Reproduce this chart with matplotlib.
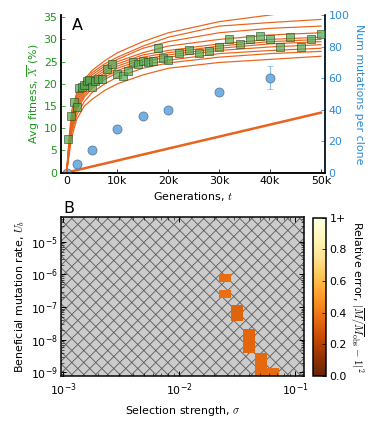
import matplotlib
matplotlib.use('Agg')
import matplotlib.pyplot as plt
import numpy as np
from matplotlib.collections import LineCollection

plt.rcParams.update({'font.size': 11, 'font.family': 'DejaVu Sans',
                     'mathtext.fontset': 'cm'})

GREEN = '#1c961c'
BLUE = '#2a8ad4'
ORANGE = '#e8641c'

# ---- panel A data ----
t_sim = [0, 500, 1000, 2000, 3500, 5000, 7500, 10000, 15000, 20000, 30000, 40000, 50000]
sim_fitness = [
    [0, 8.0, 14.0, 18.0, 21.0, 23.0, 25.2, 27.0, 29.5, 31.5, 34.0, 35.5, 37.0],
    [0, 7.0, 13.0, 17.5, 20.5, 22.5, 24.5, 26.0, 28.5, 30.5, 33.0, 33.8, 34.5],
    [0, 7.0, 12.5, 17.0, 20.0, 22.0, 24.0, 25.5, 28.0, 29.5, 31.5, 32.5, 33.0],
    [0, 6.5, 12.0, 16.5, 19.5, 21.5, 23.5, 25.0, 27.0, 28.5, 30.0, 31.0, 31.5],
    [0, 6.0, 11.5, 16.0, 19.0, 21.0, 23.0, 24.5, 26.5, 27.5, 29.0, 30.0, 30.5],
    [0, 6.0, 11.0, 15.5, 18.5, 20.5, 22.5, 24.0, 26.0, 27.0, 28.5, 29.5, 30.0],
    [0, 5.5, 10.5, 15.0, 18.0, 20.0, 22.0, 23.5, 25.5, 26.5, 28.0, 29.0, 29.5],
    [0, 5.0, 10.0, 14.5, 17.5, 19.5, 21.5, 23.0, 25.0, 26.0, 27.5, 28.3, 28.8],
    [0, 5.0, 9.5, 14.0, 17.0, 19.0, 21.0, 22.5, 24.3, 25.3, 26.8, 27.5, 28.0],
    [0, 4.5, 9.0, 13.0, 16.0, 18.0, 20.0, 21.5, 23.5, 24.7, 26.0, 26.8, 27.3],
    [0, 4.0, 8.0, 12.0, 15.0, 16.5, 18.5, 20.0, 22.0, 23.5, 24.8, 25.5, 26.2],
]
t_fit = [330, 860, 1450, 2000, 2500, 3000, 3500, 4000, 4500, 5000, 5600, 6100, 7000,
         8000, 9000, 10000, 11000, 12000, 13000, 14000, 15000, 16000, 17000, 18000,
         19000, 20000, 22000, 24000, 26000, 28000, 30000, 32000, 34000, 36000, 38000,
         40000, 42000, 44000, 46000, 48000, 50000]
fitness = [7.5, 12.7, 16.0, 14.7, 19.0, 19.2, 19.7, 20.7, 20.8, 19.2, 20.7, 21.0, 21.1,
           23.3, 24.4, 22.3, 21.7, 22.9, 24.8, 24.4, 25.1, 24.8, 25.1, 28.1,
           25.7, 25.4, 26.9, 27.6, 27.0, 27.4, 28.4, 30.2, 28.9, 30.2, 30.8,
           30.2, 28.4, 30.6, 28.4, 30.0, 31.2]
t_mut = [0, 2000, 5000, 10000, 15000, 20000, 30000, 40000]
mutations = [0, 5.7, 14.2, 27.5, 35.6, 40.0, 50.8, 60.2]
mut_err = [0, 0, 0, 0, 0, 0, 0, 7.4]
t_line = [0, 50000]
mut_line = [0, 38]

# ---- panel B data ----
sigma_edges = 10 ** np.linspace(-3, -0.93, 21)
ub_edges = 10 ** (-9.11 + 0.24 * np.arange(22))
cell_sigma = [13, 13, 14, 14, 15, 15, 15, 16, 16, 16, 17]
cell_ub = [10, 12, 7, 8, 3, 4, 5, 0, 1, 2, 0]
cell_err = [0.37, 0.36, 0.33, 0.33, 0.34, 0.34, 0.34, 0.35, 0.35, 0.35, 0.36]

W, H = 375, 425
fig = plt.figure(figsize=(W / 72, H / 72), dpi=72)

# ============== panel A ==============
ax = fig.add_axes([0.1627, 0.5941, 0.704, 0.3706])
ax2 = ax.twinx()
for curve in sim_fitness:
    ax.plot(t_sim, curve, color=ORANGE, lw=1.2, zorder=2)
ax2.plot(t_line, mut_line, color=ORANGE, lw=2.5, zorder=2)
ax2.errorbar(t_mut, mutations, yerr=mut_err, fmt='o', ms=9, mfc='#74b1e2',
             mec='#5a7a99', mew=0.8, ecolor='#8cc0ea', elinewidth=1.2, capsize=3,
             zorder=4)
ax.plot(t_fit, fitness, 's', ms=8.5, mfc='#4fa84f', mec='#224422', mew=0.8,
        alpha=0.7, zorder=5)
ax.set_zorder(ax2.get_zorder() + 1)
ax.patch.set_visible(False)

ax.set_xlim(-1100, 50800)
ax.set_ylim(0, 35.5)
ax2.set_ylim(0, 100)
ax.set_xticks([0, 10000, 20000, 30000, 40000, 50000])
ax.set_xticklabels(['0', '10k', '20k', '30k', '40k', '50k'])
ax.set_yticks(np.arange(0, 36, 5))
ax2.set_yticks(np.arange(0, 101, 20))
ax.tick_params(axis='y', colors=GREEN, direction='in', length=4)
ax.tick_params(axis='x', direction='in', length=4)
ax2.tick_params(axis='y', colors=BLUE, direction='in', length=4)
ax.set_xlabel('Generations, $t$')
ax.set_ylabel(r'Avg fitness, $\overline{X}$ (%)', color=GREEN, labelpad=2)
ax2.set_ylabel('Num mutations per clone', color=BLUE, rotation=270, labelpad=14)
for a in (ax, ax2):
    a.spines['top'].set_visible(False)
    a.spines['left'].set_linewidth(1.5)
    a.spines['bottom'].set_linewidth(1.5)
    a.spines['right'].set_linewidth(1.5)
ax2.spines['right'].set_color(BLUE)
ax.text(0.04, 0.98, 'A', transform=ax.transAxes, fontsize=16, va='top', ha='left')

# ============== panel B ==============
b_rect = [0.1627, 0.116, 0.648, 0.3727]
bx = fig.add_axes(b_rect)
cax = fig.add_axes([0.8355, 0.116, 0.0339, 0.3715])
bx.set_facecolor('#cccccc')

# crosshatch background (12 px spacing), built in axes fractions
aw, ah = b_rect[2] * W, b_rect[3] * H
segs = []
for c in np.arange(-ah, aw + 12, 12.0):
    segs.append([(c / aw, 0), ((c + ah) / aw, 1)])
    segs.append([((c + ah) / aw, 0), (c / aw, 1)])
bx.add_collection(LineCollection(segs, colors='#555555', linewidths=0.8,
                                 transform=bx.transAxes, zorder=0.5))

err = np.full((len(ub_edges) - 1, len(sigma_edges) - 1), np.nan)
for i, j, v in zip(cell_ub, cell_sigma, cell_err):
    err[i, j] = v
mesh = bx.pcolormesh(sigma_edges, ub_edges, np.ma.masked_invalid(err),
                     cmap='YlOrBr_r', vmin=0, vmax=1, zorder=1)
bx.set_xscale('log')
bx.set_yscale('log')
bx.set_xlim(10 ** -3.02, 10 ** -0.922)
bx.set_ylim(10 ** -9.1, 10 ** -4.25)
bx.set_yticks([1e-9, 1e-8, 1e-7, 1e-6, 1e-5])
bx.set_xticks([1e-3, 1e-2, 1e-1])
bx.tick_params(which='both', direction='in', top=True, right=True)
bx.tick_params(which='major', length=5, width=1)
bx.tick_params(which='minor', length=3)
bx.tick_params(axis='x', pad=6)
for s in bx.spines.values():
    s.set_linewidth(1.5)
    s.set_zorder(3)
bx.set_xlabel(r'Selection strength, $\sigma$', labelpad=6)
bx.set_ylabel('Beneficial mutation rate, $U_b$')
bx.text(0.01, 1.01, 'B', transform=bx.transAxes, fontsize=16, va='bottom', ha='left')

cb = fig.colorbar(mesh, cax=cax, ticks=[0, 0.2, 0.4, 0.6, 0.8, 1.0])
cb.ax.set_yticklabels(['0.0', '0.2', '0.4', '0.6', '0.8', '1+'])
cb.ax.tick_params(direction='in', length=4)
cb.outline.set_linewidth(1.5)
cb.set_label(r'Relative error, $|\overline{M}/\overline{M}_{\rm obs}-1|^2$',
             rotation=270, labelpad=19)

plt.savefig('out.png', dpi=72)
